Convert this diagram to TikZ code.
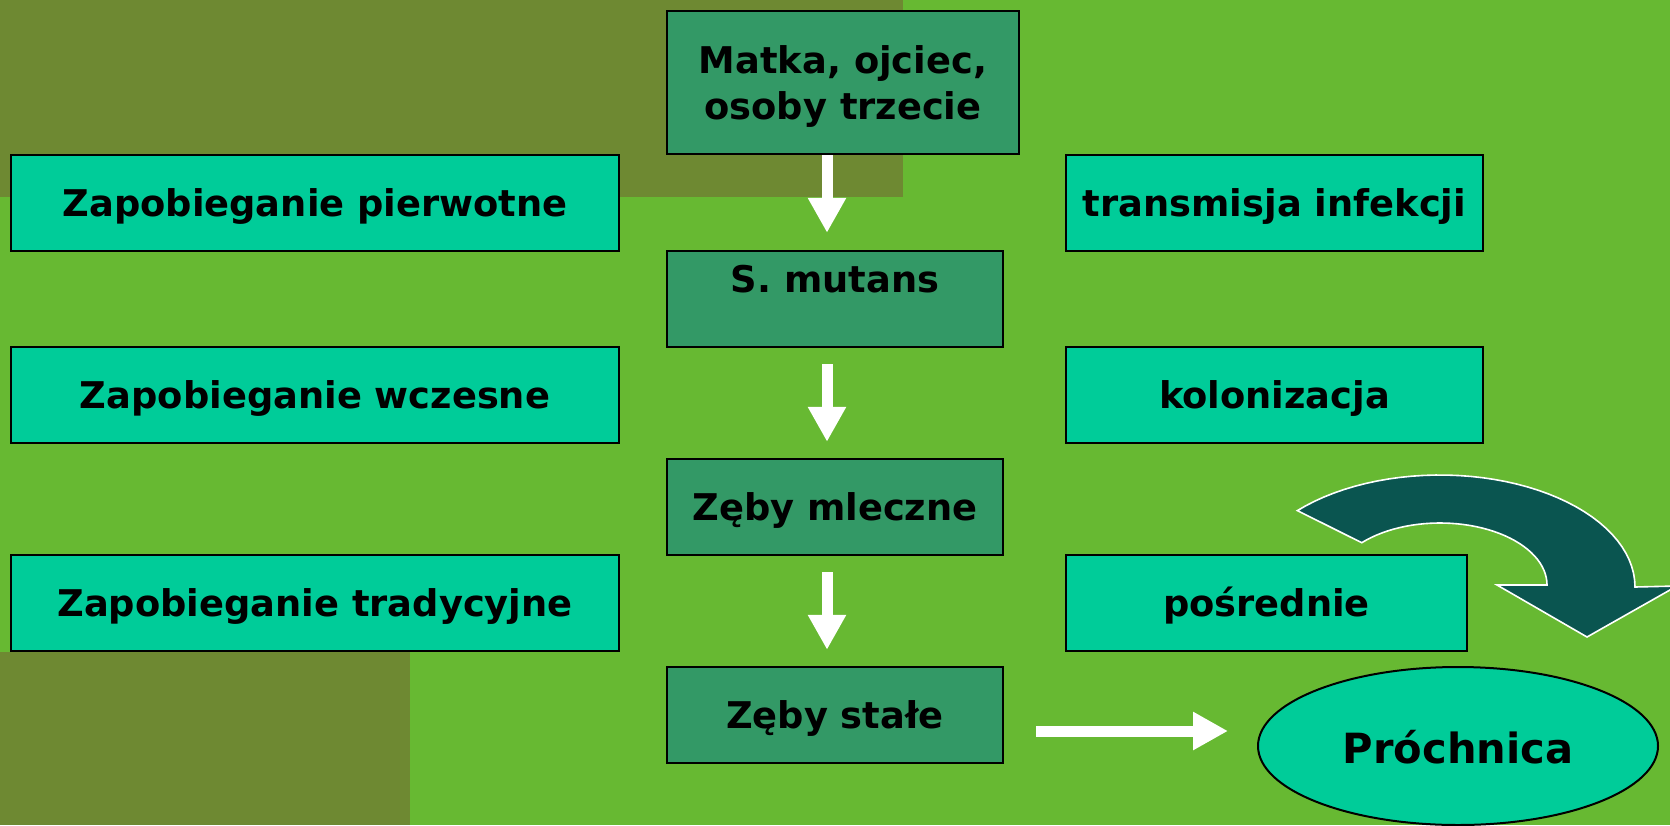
\documentclass[tikz,border=0pt]{standalone}
\usepackage{fontspec}
\setmainfont{DejaVu Sans}
\usetikzlibrary{arrows.meta,shapes.geometric}
\definecolor{bggreen}{HTML}{67B932}
\definecolor{olive}{HTML}{6E8932}
\definecolor{tealbox}{HTML}{00CC99}
\definecolor{darkbox}{HTML}{339966}
\definecolor{darkarrow}{HTML}{0A5550}
\begin{document}
\begin{tikzpicture}[x=0.5pt,y=-0.5pt,
  box/.style={draw=black,line width=1.2pt,fill=tealbox,inner sep=0pt,minimum height=48pt,
    text height=17.5pt,text depth=4pt,
    font=\bfseries\fontsize{18.4}{23}\selectfont,align=center},
  cbox/.style={box,fill=darkbox},
  blockarrow/.style={draw=white,line width=5.5pt,-{Triangle[width=18pt,length=17.5pt]}}]
\useasboundingbox (0,0) rectangle (1670,825);
\clip (0,0) rectangle (1670,825);
% background
\fill[bggreen] (0,0) rectangle (1670,825);
\fill[olive] (0,0) rectangle (903,197);
\fill[olive] (0,652) rectangle (410,825);
% left column
\node[box,minimum width=304pt] (zp) at (315,203) {Zapobieganie pierwotne};
\node[box,minimum width=304pt] (zw) at (315,395) {Zapobieganie wczesne};
\node[box,minimum width=304pt] (zt) at (315,603) {Zapobieganie tradycyjne};
% right column
\node[box,minimum width=208.5pt] (ti) at (1274.5,203) {transmisja infekcji};
\node[box,minimum width=208.5pt] (ko) at (1274.5,395) {kolonizacja};
\node[box,minimum width=200.5pt] (po) at (1266.5,603) {pośrednie};
% centre column
\node[cbox,minimum width=176pt,minimum height=71.5pt,text height=40.5pt,text depth=4pt] (mo) at (843,82.5) {Matka, ojciec,\\ osoby trzecie};
\node[cbox,minimum width=168pt,text depth=24pt] (sm) at (835,299) {S. mutans};
\node[cbox,minimum width=168pt] (zm) at (835,507) {Zęby mleczne};
\node[cbox,minimum width=168pt] (zs) at (835,715) {Zęby stałe};
% caries
\node[ellipse,draw=black,line width=1pt,fill=tealbox,inner sep=0pt,minimum width=200pt,minimum height=79pt,
  text height=21pt,text depth=4pt,
  font=\bfseries\fontsize{20.8}{25}\selectfont] (pr) at (1458,746) {Próchnica};
% arrows
\draw[blockarrow,shorten >=8.5pt] ([xshift=-8pt]mo.south) -- ([xshift=-4pt]sm.north);
\draw[blockarrow,shorten <=8pt,shorten >=8pt] ([xshift=-4pt]sm.south) -- ([xshift=-4pt]zm.north);
\draw[blockarrow,shorten <=8pt,shorten >=8pt] ([xshift=-4pt]zm.south) -- ([xshift=-4pt]zs.north);
\draw[blockarrow,shorten <=16pt,shorten >=14.5pt] ([yshift=-8pt]zs.east) -- ([yshift=-8pt]zs.east -| pr.west);
% curved arrow
\draw[draw=white,line width=0.8pt,fill=darkarrow]
  plot[domain=137:0,samples=40] ({1440+195*cos(\x)},{587-112*sin(\x)})
  -- (1677,586) -- (1587,637) -- (1497,585) -- (1547,585)
  -- plot[domain=0:137,samples=40] ({1440+107*cos(\x)},{585-62*sin(\x)}) -- cycle;
\end{tikzpicture}
\end{document}
